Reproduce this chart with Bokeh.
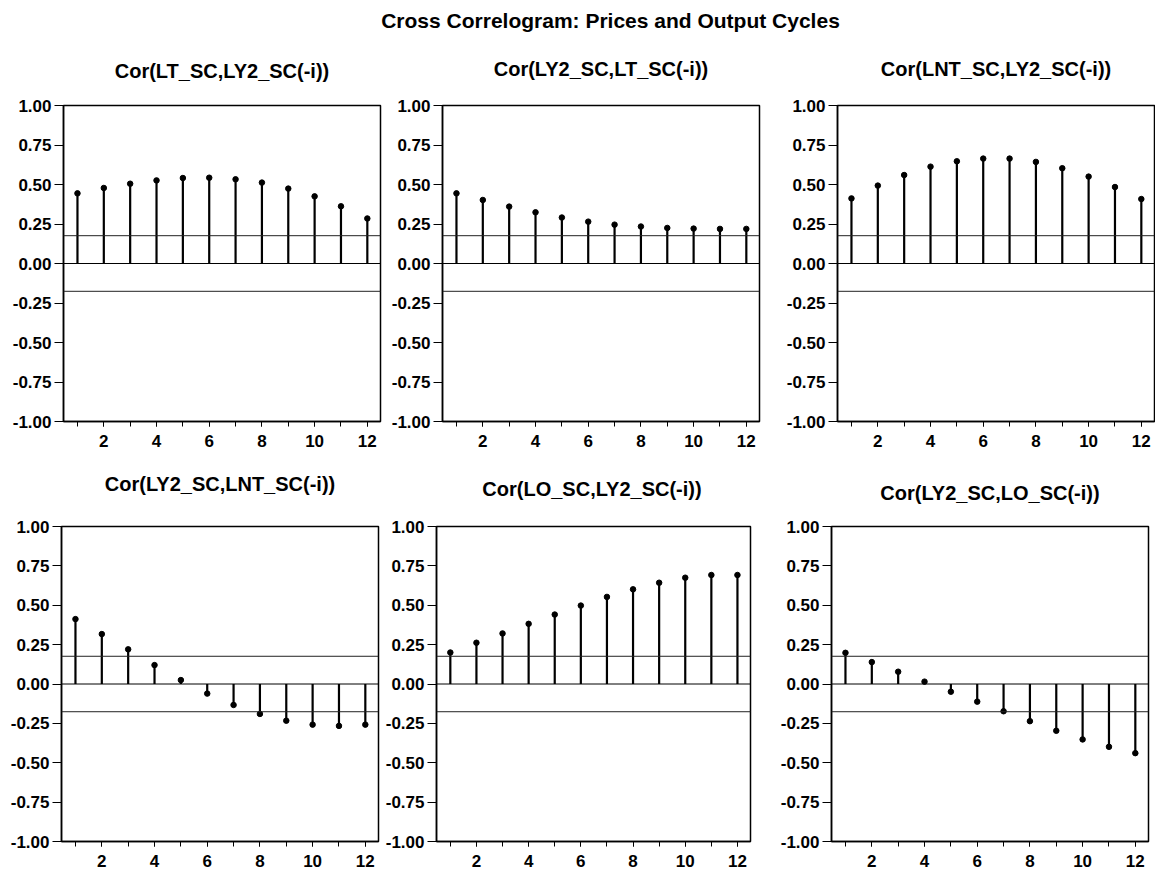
from bokeh.plotting import figure
from bokeh.layouts import column, row
from bokeh.models import Range1d, FixedTicker, PrintfTickFormatter, Span, ColumnDataSource
from bokeh.core.properties import value
from bokeh.embed import file_html
from bokeh.resources import INLINE

# ---------------- data ----------------
MAIN_TITLE = "Cross Correlogram: Prices and Output Cycles"
LAGS = list(range(1, 13))
X_TICKS = [2, 4, 6, 8, 10, 12]
Y_TICKS = [-1.0, -0.75, -0.5, -0.25, 0.0, 0.25, 0.5, 0.75, 1.0]
BAND = 0.176  # approx. 2/sqrt(T) confidence band

TITLES = [
    "Cor(LT_SC,LY2_SC(-i))",
    "Cor(LY2_SC,LT_SC(-i))",
    "Cor(LNT_SC,LY2_SC(-i))",
    "Cor(LY2_SC,LNT_SC(-i))",
    "Cor(LO_SC,LY2_SC(-i))",
    "Cor(LY2_SC,LO_SC(-i))",
]
COR_LT_LY2 = [0.444, 0.478, 0.505, 0.526, 0.541, 0.543, 0.533, 0.512, 0.474, 0.425, 0.362, 0.285]
COR_LY2_LT = [0.444, 0.402, 0.360, 0.324, 0.291, 0.265, 0.246, 0.234, 0.225, 0.221, 0.219, 0.219]
COR_LNT_LY2 = [0.412, 0.493, 0.560, 0.613, 0.647, 0.664, 0.664, 0.643, 0.603, 0.550, 0.484, 0.408]
COR_LY2_LNT = [0.412, 0.317, 0.220, 0.120, 0.025, -0.061, -0.133, -0.190, -0.233, -0.258, -0.266, -0.258]
COR_LO_LY2 = [0.200, 0.262, 0.321, 0.382, 0.441, 0.498, 0.553, 0.601, 0.643, 0.675, 0.692, 0.692]
COR_LY2_LO = [0.198, 0.139, 0.078, 0.015, -0.049, -0.112, -0.173, -0.236, -0.297, -0.352, -0.399, -0.439]

SERIES = [COR_LT_LY2, COR_LY2_LT, COR_LNT_LY2, COR_LY2_LNT, COR_LO_LY2, COR_LY2_LO]

FONT = "Liberation Sans"
TOTAL_W = 1155
FRAME_W = 317
FRAME_H = 316

# per panel borders: (left, right, top, bottom)
BORDERS = [
    (63, 8, 17, 30),
    (54, 8, 17, 30),
    (70, 1, 17, 30),
    (61, 4, 20, 27),
    (51, 8, 20, 27),
    (73, 7, 20, 27),
]

STRIP1_H = 88
STRIP2_H = 55


def make_panel(vals, borders):
    l, r, t, b = borders
    p = figure(width=l + FRAME_W + r, height=t + FRAME_H + b,
               output_backend="svg", toolbar_location=None,
               x_range=Range1d(0.47, 12.5), y_range=Range1d(-1.0, 1.0),
               min_border_left=l, min_border_right=r,
               min_border_top=t, min_border_bottom=b)
    p.background_fill_color = "white"
    p.border_fill_color = "white"
    p.outline_line_color = "black"
    p.outline_line_width = 1.5
    p.xgrid.visible = False
    p.ygrid.visible = False

    for ax in (p.xaxis[0], p.yaxis[0]):
        ax.major_label_text_font = FONT
        ax.major_label_text_font_style = "bold"
        ax.major_label_text_font_size = "17px"
        ax.major_label_text_color = "black"
        ax.axis_line_color = "black"
        ax.axis_line_width = 1.5
        ax.major_tick_line_color = "black"
        ax.minor_tick_line_color = "black"
        ax.major_tick_in = 0
        ax.minor_tick_in = 0

    p.xaxis.ticker = FixedTicker(ticks=X_TICKS, minor_ticks=LAGS)
    p.xaxis.major_tick_out = 5
    p.xaxis.minor_tick_out = 5
    p.xaxis.major_label_standoff = 8

    p.yaxis.ticker = FixedTicker(ticks=Y_TICKS, minor_ticks=[])
    p.yaxis.formatter = PrintfTickFormatter(format="%.2f")
    p.yaxis.major_tick_out = 9
    p.yaxis.minor_tick_out = 0
    p.yaxis.major_label_standoff = 3

    p.add_layout(Span(location=BAND, dimension="width", line_color="#222222", line_width=1))
    p.add_layout(Span(location=-BAND, dimension="width", line_color="#222222", line_width=1))
    p.add_layout(Span(location=0, dimension="width", line_color="black", line_width=1))

    src = ColumnDataSource(dict(lag=LAGS, val=vals, zero=[0] * len(LAGS)))
    p.segment(x0="lag", y0="zero", x1="lag", y1="val", source=src,
              line_color="black", line_width=2.2)
    p.scatter(x="lag", y="val", source=src, size=5.5, color="black")
    return p


def frame_centers(idx_list):
    xs = []
    x = 0
    for i in idx_list:
        l, r, t, b = BORDERS[i]
        xs.append(x + l + FRAME_W / 2)
        x += l + FRAME_W + r
    return xs


def make_strip(h, items):
    s = figure(width=TOTAL_W, height=h, output_backend="svg", toolbar_location=None,
               x_range=Range1d(0, TOTAL_W), y_range=Range1d(0, h),
               min_border=0, x_axis_location=None, y_axis_location=None)
    s.outline_line_color = None
    s.background_fill_color = "white"
    s.border_fill_color = "white"
    s.xgrid.visible = False
    s.ygrid.visible = False
    for (x, y_top, txt, size) in items:
        s.text(x=[x], y=[h - y_top], text=[txt], text_align="center",
               text_baseline="middle", text_font=value(FONT), text_font_style="bold",
               text_font_size=size, text_color="black")
    return s


panels = [make_panel(SERIES[i], BORDERS[i]) for i in range(6)]

c1 = frame_centers([0, 1, 2])
c2 = frame_centers([3, 4, 5])

strip1 = make_strip(STRIP1_H, [
    (610, 20, MAIN_TITLE, "21px"),
    (c1[0], 70, TITLES[0], "20px"),
    (c1[1], 68, TITLES[1], "20px"),
    (c1[2], 68, TITLES[2], "20px"),
])
strip2 = make_strip(STRIP2_H, [
    (c2[0], 32, TITLES[3], "20px"),
    (c2[1], 37, TITLES[4], "20px"),
    (c2[2], 41, TITLES[5], "20px"),
])

layout = column(strip1, row(*panels[:3]), strip2, row(*panels[3:]))

open("out.html", "w").write(file_html(layout, INLINE))
